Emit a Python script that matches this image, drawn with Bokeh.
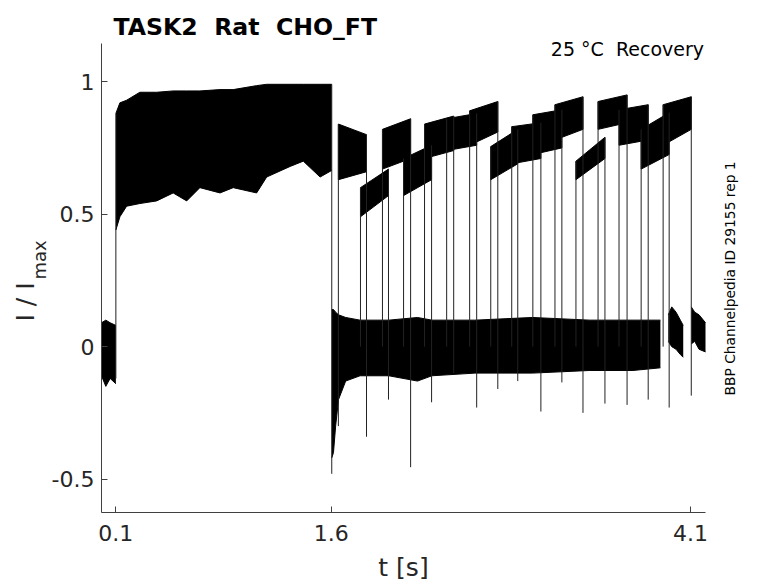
import math
from bokeh.plotting import figure
from bokeh.models import Range1d, LinearAxis, FixedTicker, Label
from bokeh.embed import file_html
from bokeh.resources import INLINE

# ---------------- data ----------------
x_ticks = [0.1, 1.6, 4.1]
x_tick_labels = ["0.1", "1.6", "4.1"]
y_ticks = [-0.5, 0, 0.5, 1]
y_tick_labels = ["-0.5", "0", "0.5", "1"]
x_lim = (0.0, 4.205)
y_lim = (-0.626, 1.144)

# baseline before the conditioning pulse
pre_t = [0.0, 0.03, 0.06, 0.1]
pre_hi = [0.09, 0.10, 0.09, 0.08]
pre_lo = [-0.11, -0.15, -0.12, -0.14]

# conditioning pulse envelope
pulse_t = [0.100, 0.128, 0.175, 0.267, 0.384, 0.499, 0.593, 0.685, 0.825, 0.917, 1.080, 1.150, 1.313, 1.405, 1.522, 1.603]
pulse_hi = [0.88, 0.92, 0.93, 0.96, 0.96, 0.965, 0.965, 0.965, 0.97, 0.97, 0.985, 0.99, 0.99, 0.99, 0.99, 0.99]
pulse_lo = [0.44, 0.49, 0.53, 0.54, 0.55, 0.58, 0.55, 0.60, 0.58, 0.60, 0.58, 0.64, 0.68, 0.70, 0.64, 0.665]

# baseline after the conditioning pulse
base_t = [1.603, 1.615, 1.63, 1.65, 1.70, 1.80, 2.00, 2.20, 2.30, 2.60, 3.00, 3.40, 3.70, 3.891]
base_hi = [0.14, 0.14, 0.13, 0.12, 0.11, 0.10, 0.10, 0.11, 0.10, 0.10, 0.11, 0.10, 0.10, 0.10]
base_lo = [-0.42, -0.40, -0.30, -0.20, -0.13, -0.11, -0.11, -0.13, -0.11, -0.10, -0.10, -0.09, -0.09, -0.08]

tail1_t = [3.946, 3.97, 4.00, 4.03, 4.05]
tail1_hi = [0.12, 0.15, 0.13, 0.10, 0.08]
tail1_lo = [0.02, 0.0, -0.01, -0.03, -0.04]
tail2_t = [4.106, 4.13, 4.16, 4.205]
tail2_hi = [0.15, 0.13, 0.12, 0.09]
tail2_lo = [0.01, 0.02, -0.01, -0.02]

# test-pulse segments (recovered current)
seg_t0 = [1.649, 1.803, 1.956, 2.103, 2.249, 2.403, 2.563, 2.710, 2.856, 3.003, 3.157, 3.303, 3.457, 3.603, 3.757, 3.910]
seg_t1 = [1.845, 1.998, 2.152, 2.298, 2.452, 2.612, 2.759, 2.898, 3.059, 3.205, 3.352, 3.505, 3.659, 3.806, 3.952, 4.106]
seg_hi0 = [0.84, 0.60, 0.82, 0.71, 0.84, 0.86, 0.89, 0.755, 0.83, 0.875, 0.913, 0.70, 0.925, 0.894, 0.82, 0.913]
seg_hi1 = [0.80, 0.67, 0.86, 0.76, 0.87, 0.88, 0.925, 0.82, 0.845, 0.894, 0.943, 0.79, 0.95, 0.913, 0.883, 0.943]
seg_lo0 = [0.63, 0.49, 0.67, 0.57, 0.71, 0.74, 0.76, 0.63, 0.69, 0.725, 0.78, 0.63, 0.82, 0.76, 0.67, 0.76]
seg_lo1 = [0.66, 0.57, 0.71, 0.63, 0.74, 0.76, 0.81, 0.69, 0.71, 0.75, 0.82, 0.71, 0.845, 0.78, 0.725, 0.82]

# vertical transitions / capacitive spikes
spike_t = [0.1, 1.603, 1.649, 1.803, 1.845, 1.956, 1.998, 2.103, 2.152, 2.249, 2.298, 2.403, 2.452, 2.563, 2.612,
           2.710, 2.759, 2.856, 2.898, 3.003, 3.059, 3.157, 3.205, 3.303, 3.352, 3.457, 3.505, 3.603, 3.659,
           3.757, 3.806, 3.910, 3.952, 4.106]
spike_top = [0.88, 0.99, 0.84, 0.60, 0.80, 0.82, 0.67, 0.71, 0.86, 0.84, 0.76, 0.86, 0.87, 0.89, 0.88,
             0.755, 0.925, 0.83, 0.82, 0.875, 0.845, 0.913, 0.894, 0.70, 0.943, 0.925, 0.79, 0.894, 0.95,
             0.82, 0.913, 0.913, 0.883, 0.943]
spike_bottom = [-0.12, -0.48, -0.30, 0.0, -0.34, 0.0, -0.20, 0.0, -0.455, 0.0, -0.21, 0.0, -0.10, 0.0, -0.23,
                0.0, -0.16, 0.0, -0.13, 0.0, -0.245, 0.0, -0.135, 0.0, -0.25, 0.0, -0.215, 0.0, -0.22,
                0.0, -0.20, 0.0, -0.23, -0.185]

title_text = "TASK2\u00a0\u00a0Rat\u00a0\u00a0CHO_FT"
cond_text = "25 °C\u00a0\u00a0Recovery"
id_text = "BBP Channelpedia ID 29155 rep 1"
x_label = "t [s]"
y_label_main = "I / I"
y_label_sub = "max"

# ---------------- layout (pixels) ----------------
W, H = 778, 583
LEFT, BOTTOM_PX = 101, 512      # axis box left edge / bottom edge in canvas pixels
BOX_R, BOX_T = 705, 43          # axis box right / top in canvas pixels
sx = (BOX_R - LEFT) / (x_lim[1] - x_lim[0])
sy = (BOTTOM_PX - BOX_T) / (y_lim[1] - y_lim[0])
x_start = x_lim[0] - LEFT / sx
x_end = x_lim[0] + (W - LEFT) / sx
y_start = y_lim[0] - (H - BOTTOM_PX) / sy
y_end = y_lim[0] + BOTTOM_PX / sy

def px2t(px):
    return x_lim[0] + (px - LEFT) / sx

def py2y(py):
    return y_lim[0] + (BOTTOM_PX - py) / sy

FONT = "DejaVu Sans"
AX = "#404040"
TXT = "#262626"

p = figure(width=W, height=H, output_backend="svg", toolbar_location=None,
           x_range=Range1d(x_start, x_end), y_range=Range1d(y_start, y_end),
           x_axis_location=None, y_axis_location=None, background_fill_color="white",
           border_fill_color="white")
p.min_border = 0
p.min_border_left = 0
p.min_border_right = 0
p.min_border_top = 0
p.min_border_bottom = 0
p.outline_line_color = None
p.xgrid.visible = False
p.ygrid.visible = False

def style_axis(ax):
    ax.axis_line_color = AX
    ax.axis_line_width = 1
    ax.major_tick_line_color = AX
    ax.major_tick_in = 6
    ax.major_tick_out = 0
    ax.minor_tick_in = 0
    ax.minor_tick_out = 0
    ax.minor_tick_line_color = None
    ax.major_label_text_font = FONT
    ax.major_label_text_font_size = "22px"
    ax.major_label_text_color = TXT

xa = LinearAxis(ticker=FixedTicker(ticks=x_ticks), bounds=x_lim, fixed_location=y_lim[0],
                major_label_overrides={t: s for t, s in zip(x_ticks, x_tick_labels)})
style_axis(xa)
xa.major_label_standoff = 12
p.add_layout(xa, "below")

ya = LinearAxis(ticker=FixedTicker(ticks=y_ticks), bounds=y_lim, fixed_location=x_lim[0],
                major_label_overrides={t: s for t, s in zip(y_ticks, y_tick_labels)})
style_axis(ya)
ya.major_label_standoff = 7
p.add_layout(ya, "left")

BLACK = "black"

def band(t, hi, lo):
    p.varea(x=t, y1=lo, y2=hi, fill_color=BLACK)
    p.line(t, hi, line_color=BLACK, line_width=1)
    p.line(t, lo, line_color=BLACK, line_width=1)

band(pre_t, pre_hi, pre_lo)
band(pulse_t, pulse_hi, pulse_lo)
band(base_t, base_hi, base_lo)
band(tail1_t, tail1_hi, tail1_lo)
band(tail2_t, tail2_hi, tail2_lo)

xs, ys = [], []
for a, b, h0, h1, l0, l1 in zip(seg_t0, seg_t1, seg_hi0, seg_hi1, seg_lo0, seg_lo1):
    xs.append([a, b, b, a])
    ys.append([l0, l1, h1, h0])
p.patches(xs, ys, fill_color=BLACK, line_color=BLACK, line_width=1)

p.segment(x0=spike_t, y0=spike_bottom, x1=spike_t, y1=spike_top, line_color="#222222", line_width=1)

# ---------------- texts ----------------
def lab(px, py, text, size, **kw):
    p.add_layout(Label(x=px2t(px), y=py2y(py), text=text, text_font=FONT, text_font_size=size, **kw))

lab(113, 26.7, title_text, "23.6px", text_font_style="bold", text_color="black",
    text_align="left", text_baseline="alphabetic")
lab(703.5, 48.3, cond_text, "19px", text_color="black", text_align="right", text_baseline="alphabetic")
lab(729.5, 395, id_text, "13.8px", angle=math.pi / 2, text_color="black",
    text_align="left", text_baseline="alphabetic")
lab(25, 321, y_label_main, "25px", angle=math.pi / 2, text_color=TXT,
    text_align="left", text_baseline="alphabetic")
lab(38.5, 279, y_label_sub, "18px", angle=math.pi / 2, text_color=TXT,
    text_align="left", text_baseline="alphabetic")
lab(403, 567, x_label, "25px", text_color=TXT, text_align="center", text_baseline="middle")

open("out.html", "w").write(file_html(p, INLINE))
